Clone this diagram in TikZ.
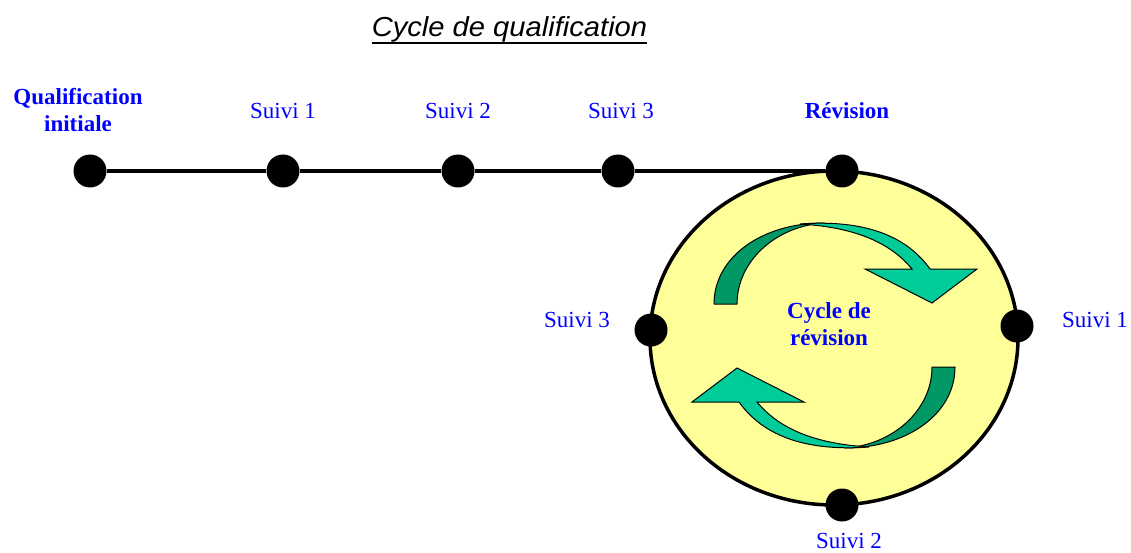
\documentclass[tikz,border=0pt]{standalone}
\usepackage{fontspec}
\setmainfont{Liberation Serif}
\newfontfamily\titlefont{Liberation Sans}
\usetikzlibrary{shapes.geometric}
\definecolor{blu}{RGB}{0,0,255}
\definecolor{pale}{RGB}{255,255,153}
\definecolor{lgreen}{RGB}{0,204,153}
\definecolor{dgreen}{RGB}{0,153,102}
\tikzset{
  dot/.style={circle,fill=black,inner sep=0pt,minimum size=33pt},
  lab/.style={text=blu,font=\fontsize{23}{27}\selectfont,inner sep=0pt,anchor=base},
  blab/.style={lab,font=\bfseries\fontsize{23}{27}\selectfont},
  dark/.style={fill=dgreen,draw=black,line width=1pt,line join=round},
  light/.style={fill=lgreen,draw=black,line width=1pt,line join=miter},
}
\begin{document}
\begin{tikzpicture}[x=1pt,y=-1pt]
\useasboundingbox (0,0) rectangle (1131,553);
% title
\node[inner sep=0pt,anchor=base,font=\titlefont\itshape\fontsize{27.5}{30}\selectfont] (title) at (509.5,37) {\scalebox{1.06}[1]{Cycle de qualification}};
\draw[line width=2.2pt] ([yshift=-6pt]title.base west) -- ([yshift=-6pt]title.base east);
% revision ellipse
\node[ellipse,draw=black,fill=pale,line width=3.5pt,minimum width=368pt,minimum height=334pt] (cyc) at (834,338) {};
% arrows
\begin{scope}
\path[dark] (714,304) .. controls (714,257) and (762,223) .. (824,223) .. controls (776,226) and (737,261) .. (737,304) -- cycle;
\path[light] (800,224) .. controls (868,219) and (908,238) .. (930,269) -- (977,269) -- (932,303) -- (865,269) -- (912,269) .. controls (888,240) and (850,227) .. (800,224) -- cycle;
\end{scope}
\begin{scope}[rotate around={180:(834.5,335.5)}]
\path[dark] (714,304) .. controls (714,257) and (762,223) .. (824,223) .. controls (776,226) and (737,261) .. (737,304) -- cycle;
\path[light] (800,224) .. controls (868,219) and (908,238) .. (930,269) -- (977,269) -- (932,303) -- (865,269) -- (912,269) .. controls (888,240) and (850,227) .. (800,224) -- cycle;
\end{scope}
% timeline dots
\node[dot] (q0) at (90,171) {};
\node[dot] (s1) at (283,171) {};
\node[dot] (s2) at (458,171) {};
\node[dot] (s3) at (618,171) {};
\node[dot] (rev) at (842,171) {};
\draw[line width=4.5pt] (q0) -- (s1) -- (s2) -- (s3) -- (rev);
% cycle dots
\node[dot] (c3) at (651,330) {};
\node[dot] (c1) at (1017,326) {};
\node[dot] (c2) at (842,505) {};
% labels
\node[blab,anchor=center,align=center] (lq0) at (78,110) {Qualification\\initiale};
\node[lab] (ls1) at (283,119) {Suivi 1};
\node[lab] (ls2) at (458,119) {Suivi 2};
\node[lab] (ls3) at (621,119) {Suivi 3};
\node[blab] (lrev) at (847,119) {Révision};
\node[lab] (lc3) at (577,327) {Suivi 3};
\node[lab] (lc1) at (1095,327) {Suivi 1};
\node[lab] (lc2) at (849,548) {Suivi 2};
\node[blab,anchor=center,align=center] (lcyc) at (829,324) {Cycle de\\révision};
\end{tikzpicture}
\end{document}
